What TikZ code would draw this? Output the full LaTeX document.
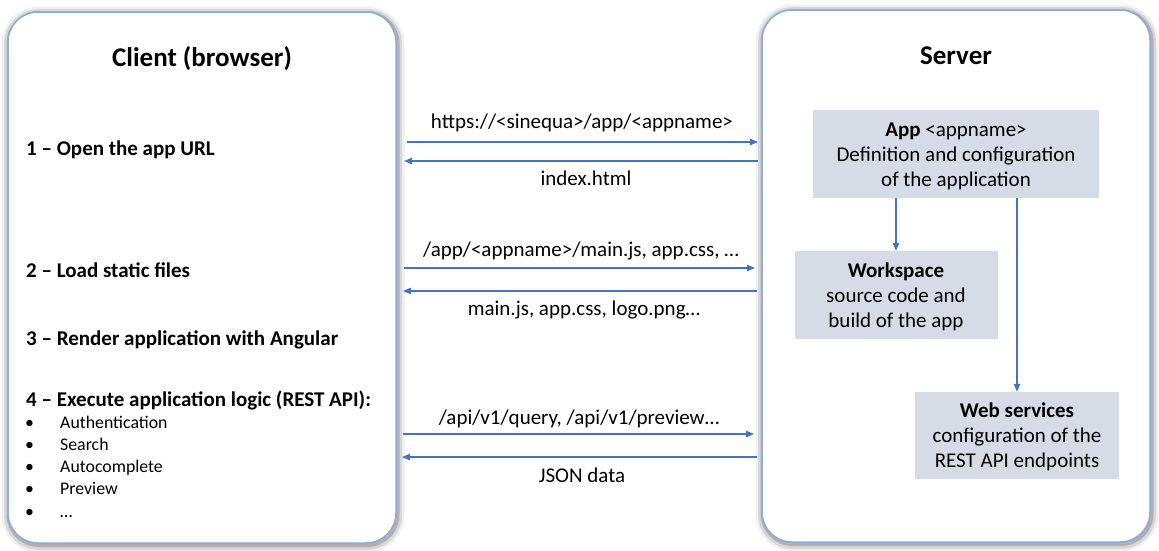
\documentclass[tikz,border=0pt]{standalone}
\usepackage{fontspec}
\setmainfont{Carlito}
\usetikzlibrary{arrows.meta,shadows}
\definecolor{frameblue}{RGB}{143,170,220}
\definecolor{arrowblue}{RGB}{68,114,196}
\definecolor{boxfill}{RGB}{214,220,229}
\newcommand{\topstrut}{\rule{0pt}{18pt}}
\begin{document}
\begin{tikzpicture}[x=1pt,y=-1pt,
  panel/.style={draw=frameblue, line width=1.5pt, fill=white, rounded corners=30pt, inner sep=0pt,
    general shadow={draw=black, line width=15pt, opacity=0.06, shadow xshift=1pt, shadow yshift=-2pt},
    general shadow={draw=black, line width=10pt, opacity=0.10, shadow xshift=1pt, shadow yshift=-2pt},
    general shadow={draw=black, line width=5pt, opacity=0.18, shadow xshift=1pt, shadow yshift=-1.5pt}},
  infobox/.style={fill=boxfill, inner sep=0pt, align=center, font=\fontsize{21}{25}\selectfont},
  titletext/.style={font=\fontsize{27}{32}\selectfont\bfseries, anchor=base},
  steptext/.style={font=\fontsize{21}{25}\selectfont\bfseries, anchor=base west, inner sep=0pt},
  msgtext/.style={font=\fontsize{21}{25}\selectfont, anchor=base},
  itemtext/.style={font=\fontsize{17.8}{22}\selectfont, anchor=base west, inner sep=0pt},
  dottext/.style={font=\fontsize{17.8}{22}\selectfont, anchor=base},
  conn/.style={draw=arrowblue, line width=1.1pt, -{Triangle[length=8pt,width=6.5pt]}}]
\useasboundingbox (0,0) rectangle (1159,550);
\fill[white] (0,0) rectangle (1159,550);

% panels
\node[panel, minimum width=388pt, minimum height=531pt] (client) at (202,277.5) {};
\node[panel, minimum width=388pt, minimum height=532pt] (server) at (956,276) {};

% titles
\node[titletext] (ctitle) at (202,66) {Client (browser)};
\node[titletext] (stitle) at (956,64) {Server};

% client steps
\node[steptext] (s1) at (26,155) {1 – Open the app URL};
\node[steptext] (s2) at (26,277) {2 – Load static files};
\node[steptext] (s3) at (26,345) {3 – Render application with Angular};
\node[steptext] (s4) at (26,406) {4 – Execute application logic (REST API):};

\node[dottext] (d1) at (29.5,428) {•};
\node[itemtext] (i1) at (60,428) {Authentication};
\node[dottext] (d2) at (29.5,450) {•};
\node[itemtext] (i2) at (60,450) {Search};
\node[dottext] (d3) at (29.5,472) {•};
\node[itemtext] (i3) at (60,472) {Autocomplete};
\node[dottext] (d4) at (29.5,494) {•};
\node[itemtext] (i4) at (60,494) {Preview};
\node[dottext] (d5) at (29.5,517) {•};
\node[itemtext] (i5) at (60,517) {…};

% messages
\node[msgtext] (m1) at (582,128) {https://<sinequa>/app/<appname>};
\node[msgtext] (m2) at (586,185) {index.html};
\node[msgtext] (m3) at (581,256) {/app/<appname>/main.js, app.css, …};
\node[msgtext] (m4) at (584,315) {main.js, app.css, logo.png…};
\node[msgtext] (m5) at (579,424) {/api/v1/query, /api/v1/preview…};
\node[msgtext] (m6) at (582,482) {JSON data};

\coordinate (r1a) at (407,142); \coordinate (r1b) at (758,142);
\coordinate (l1a) at (758,161); \coordinate (l1b) at (404,161);
\coordinate (r2a) at (404,268); \coordinate (r2b) at (755,268);
\coordinate (l2a) at (757,291); \coordinate (l2b) at (403,291);
\coordinate (r3a) at (403,434); \coordinate (r3b) at (754,434);
\coordinate (l3a) at (757,457); \coordinate (l3b) at (402,457);
\draw[conn] (r1a) -- (r1b);
\draw[conn] (l1a) -- (l1b);
\draw[conn] (r2a) -- (r2b);
\draw[conn] (l2a) -- (l2b);
\draw[conn] (r3a) -- (r3b);
\draw[conn] (l3a) -- (l3b);

% server boxes
\node[infobox, minimum width=286pt, minimum height=88pt] (app) at (956,154)
  {\topstrut\textbf{App} <appname>\\Definition and configuration\\of the application};
\node[infobox, minimum width=203pt, minimum height=88pt] (ws) at (896,295)
  {\topstrut\textbf{Workspace}\\source code and\\build of the app};
\node[infobox, minimum width=204pt, minimum height=87pt] (web) at (1017,435.5)
  {\topstrut\textbf{Web services}\\configuration of the\\REST API endpoints};

\draw[conn] (ws.north |- app.south) -- (ws.north);
\draw[conn] (web.north |- app.south) -- (web.north);
\end{tikzpicture}
\end{document}
